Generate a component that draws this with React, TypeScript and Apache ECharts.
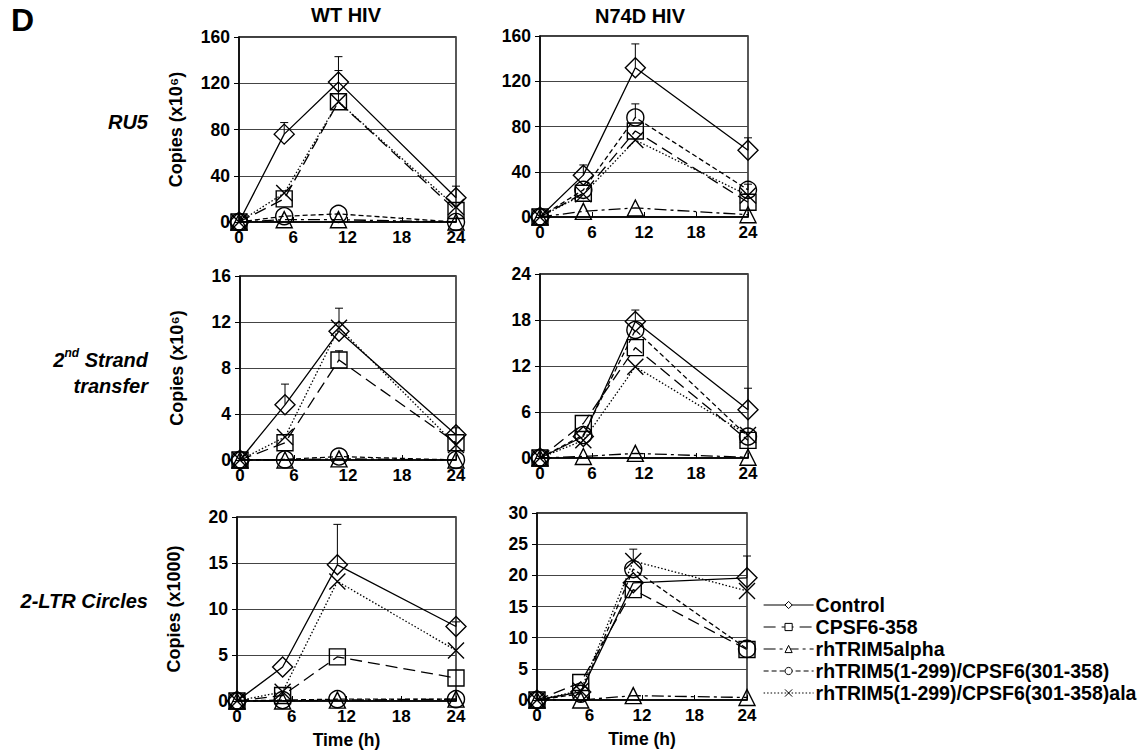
import React, { useEffect, useRef } from "react";
import * as echarts from "echarts";

const FONT = "'Liberation Sans', Arial, Helvetica, sans-serif";

const times = [0, 5, 11, 24];
const seriesNames = [
  "Control",
  "CPSF6-358",
  "rhTRIM5alpha",
  "rhTRIM5(1-299)/CPSF6(301-358)",
  "rhTRIM5(1-299)/CPSF6(301-358)ala",
];
const xTicks = [0, 24, 6];
const colTitles = ["WT HIV", "N74D HIV"];

// Values per series (order = seriesNames), at times 0, 5, 11, 24 h
const wtRu5 = [[0, 76, 121, 21], [0, 20, 104, 10], [0, 2, 2, 0], [0, 5, 7, 0], [0, 25, 104, 13]];
const n74dRu5 = [[0, 37, 132, 59], [0, 21, 76, 13], [0, 5, 8, 2], [0, 24, 88, 24], [0, 20, 68, 19]];
const wtStrand = [[0, 4.8, 11.2, 2.2], [0, 1.5, 8.7, 1.5], [0, 0, 0.1, 0], [0, 0.05, 0.3, 0], [0, 2.0, 11.5, 1.3]];
const n74dStrand = [[0, 2.8, 17.8, 6.3], [0, 4.5, 14.4, 2.3], [0, 0.2, 0.6, 0.1], [0, 3.0, 16.7, 2.8], [0, 2.3, 11.9, 3.0]];
const wtLtr = [[0, 3.7, 14.8, 8.1], [0, 0.6, 4.8, 2.5], [0, 0, 0.1, 0.2], [0, 0.1, 0.2, 0.2], [0, 1.0, 13.0, 5.5]];
const n74dLtr = [[0, 1.3, 18.8, 19.6], [0, 2.8, 17.7, 8.1], [0, 0, 0.7, 0.4], [0, 1.0, 21.0, 8.2], [0, 1.5, 22.3, 17.5]];

// Error bars: [time, value, top]
const wtRu5Err = [[5, 76, 86], [11, 121, 143], [24, 21, 31], [11, 104, 131]];
const n74dRu5Err = [[5, 37, 46], [11, 132, 153], [24, 59, 70], [11, 88, 100], [24, 24, 29]];
const wtStrandErr = [[5, 4.8, 6.6], [11, 11.2, 13.2], [11, 8.7, 9.5], [24, 2.2, 2.8]];
const n74dStrandErr = [[11, 17.8, 19.3], [24, 6.3, 9.1]];
const wtLtrErr = [[11, 14.8, 19.2], [24, 8.1, 8.6]];
const n74dLtrErr = [[11, 22.3, 24.2], [24, 19.6, 23.1], [24, 8.2, 9.5]];

const yMax = [160, 160, 16, 24, 20, 30];
const yStep = [40, 40, 4, 6, 5, 5];
const rowLabels = ["RU5", "{a|2}{s|nd}{a| Strand}\n{a|transfer}", "2-LTR Circles"];
const yNames = ["Copies (x10\u2076)", "Copies (x10\u2076)", "Copies (x1000)"];

const panelData = [wtRu5, n74dRu5, wtStrand, n74dStrand, wtLtr, n74dLtr];
const panelErr = [wtRu5Err, n74dRu5Err, wtStrandErr, n74dStrandErr, wtLtrErr, n74dLtrErr];

// layout
const grids = [
  { left: 239, top: 37, width: 217, height: 185 },
  { left: 540, top: 36, width: 208, height: 181 },
  { left: 240, top: 276, width: 216, height: 184 },
  { left: 540, top: 274, width: 208, height: 184 },
  { left: 237, top: 517, width: 219, height: 184 },
  { left: 537, top: 513, width: 210, height: 187 },
];
const symbols = ["diamond", "rect", "triangle", "circle", "path://M0,0L10,10M10,0L0,10"];
const symbolSizes = [20, 16, 16, 17, 16];
const dashes: any[] = ["solid", [12, 6], [12, 4, 3, 4], [5, 3], [1.5, 2]];

export default function App() {
  const ref = useRef<HTMLDivElement>(null);
  useEffect(() => {
    const chart = echarts.init(ref.current!, null, { renderer: "svg" });
    const xAxes: any[] = [];
    const yAxes: any[] = [];
    const series: any[] = [];
    grids.forEach((g, i) => {
      const col = i % 2;
      const row = Math.floor(i / 2);
      xAxes.push({
        gridIndex: i,
        type: "value",
        min: 0,
        max: 24,
        interval: xTicks[2],
        name: row === 2 ? "Time (h)" : "",
        nameLocation: "middle",
        nameGap: 30,
        nameTextStyle: { fontFamily: FONT, fontWeight: "bold", fontSize: 17.5, color: "#000" },
        axisLine: { show: true, onZero: false, lineStyle: { color: "#000", width: 1.5 } },
        axisTick: { show: true, inside: true, length: 5, lineStyle: { color: "#000" } },
        axisLabel: { fontFamily: FONT, fontWeight: "bold", fontSize: 17, color: "#000", margin: 7 },
        splitLine: { show: false },
      });
      yAxes.push({
        gridIndex: i,
        type: "value",
        min: 0,
        max: yMax[i],
        interval: yStep[i],
        name: col === 0 ? yNames[row] : "",
        nameLocation: "middle",
        nameGap: 54,
        nameTextStyle: { fontFamily: FONT, fontWeight: "bold", fontSize: 18, color: "#000" },
        axisLine: { show: true, lineStyle: { color: "#000", width: 1.5 } },
        axisTick: { show: true, length: 5, lineStyle: { color: "#000" } },
        axisLabel: { fontFamily: FONT, fontWeight: "bold", fontSize: 17.5, color: "#000", margin: 9 },
        splitLine: { show: true, lineStyle: { color: "#444", width: 1 } },
      });
      panelData[i].forEach((vals, s) => {
        series.push({
          type: "line",
          name: seriesNames[s],
          xAxisIndex: i,
          yAxisIndex: i,
          data: times.map((t, k) => [t, vals[k]]),
          symbol: symbols[s],
          symbolSize: symbolSizes[s],
          showSymbol: true,
          lineStyle: { color: "#000", width: 1.3, type: dashes[s] },
          itemStyle: { color: "rgba(0,0,0,0)", borderColor: "#000", borderWidth: 1.4 },
          emphasis: { disabled: true },
          z: 3,
        });
      });
      series.push({
        type: "custom",
        xAxisIndex: i,
        yAxisIndex: i,
        data: panelErr[i],
        silent: true,
        z: 2,
        renderItem: (_p: any, api: any) => {
          const p0 = api.coord([api.value(0), api.value(1)]);
          const p1 = api.coord([api.value(0), api.value(2)]);
          return {
            type: "group",
            children: [
              { type: "line", shape: { x1: p0[0], y1: p0[1], x2: p1[0], y2: p1[1] }, style: { stroke: "#000", lineWidth: 1 } },
              { type: "line", shape: { x1: p1[0] - 4, y1: p1[1], x2: p1[0] + 4, y2: p1[1] }, style: { stroke: "#000", lineWidth: 1 } },
            ],
          };
        },
      });
    });

    const graphic: any[] = [
      { type: "text", left: 11, top: 4, style: { text: "D", fontFamily: FONT, fontWeight: "bold", fontSize: 32, fill: "#000" } },
      { type: "text", x: 346, y: 15, style: { text: colTitles[0], font: `bold 20px ${FONT}`, fill: "#000", align: "center", verticalAlign: "middle" } },
      { type: "text", x: 640, y: 16, style: { text: colTitles[1], font: `bold 20px ${FONT}`, fill: "#000", align: "center", verticalAlign: "middle" } },
      { type: "text", x: 148, y: 122, style: { text: rowLabels[0], font: `italic bold 20px ${FONT}`, fill: "#000", align: "right", verticalAlign: "middle" } },
      {
        type: "text",
        x: 148,
        y: 373,
        style: {
          text: rowLabels[1],
          fill: "#000",
          align: "right",
          verticalAlign: "middle",
          rich: {
            a: { fontFamily: FONT, fontStyle: "italic", fontWeight: "bold", fontSize: 20, lineHeight: 26, align: "right" },
            s: { fontFamily: FONT, fontStyle: "italic", fontWeight: "bold", fontSize: 12, lineHeight: 26, verticalAlign: "top", padding: [0, 0, 8, 0] },
          },
        },
      },
      { type: "text", x: 148, y: 601, style: { text: rowLabels[2], font: `italic bold 20px ${FONT}`, fill: "#000", align: "right", verticalAlign: "middle" } },
    ];

    chart.setOption({
      animation: false,
      grid: grids.map((g) => ({ ...g, show: true, borderColor: "#000", borderWidth: 1.3, backgroundColor: "transparent" })),
      xAxis: xAxes,
      yAxis: yAxes,
      series,
      legend: {
        data: seriesNames,
        orient: "vertical",
        left: 758,
        top: 590,
        itemWidth: 50,
        itemHeight: 9,
        itemGap: 2,
        selectedMode: false,
        itemStyle: { color: "#fff", borderColor: "#000", borderWidth: 1 },
        lineStyle: { width: 1.2 },
        textStyle: { fontFamily: FONT, fontWeight: "bold", fontSize: 19.5, color: "#000", lineHeight: 20, padding: [0, 0, 0, -3] },
      },
      graphic,
    });
    return () => chart.dispose();
  }, []);
  return <div ref={ref} style={{ position: "absolute", left: 0, top: 0, width: 1139, height: 754 }} />;
}
